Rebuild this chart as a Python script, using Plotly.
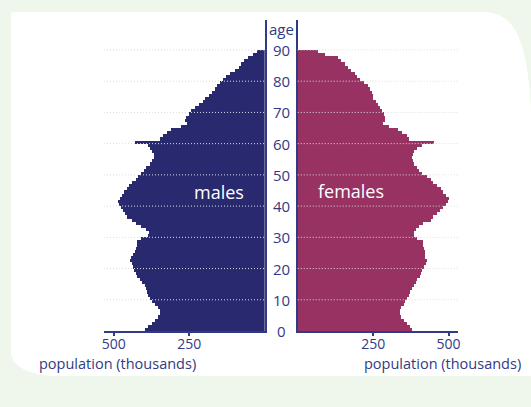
import plotly.graph_objects as go

ages = list(range(0, 90))
males = [397, 386, 375, 365, 355, 347, 348, 355, 365, 372,
         380, 386, 389, 392, 398, 408, 415, 424, 428, 432,
         436, 440, 446, 444, 435, 430, 425, 423, 422, 410,
         388, 383, 395, 410, 425, 441, 455, 463, 470, 478,
         484, 486, 480, 474, 466, 458, 450, 440, 428, 420,
         410, 400, 392, 380, 374, 368, 366, 372, 380, 386,
         430, 348, 338, 325, 310, 276, 258, 264, 262, 252,
         243, 230, 217, 206, 197, 186, 175, 166, 158, 148,
         138, 128, 114, 98, 85, 78, 69, 56, 40, 24]
females = [378, 370, 360, 350, 343, 339, 338, 342, 350, 356,
           362, 368, 372, 378, 385, 390, 396, 404, 408, 412,
           418, 425, 428, 422, 420, 420, 417, 416, 414, 396,
           384, 383, 392, 400, 416, 440, 448, 460, 472, 480,
           490, 498, 500, 490, 480, 474, 462, 448, 440, 428,
           410, 402, 394, 386, 382, 378, 380, 384, 394, 411,
           450, 367, 361, 344, 333, 303, 283, 289, 289, 286,
           280, 272, 264, 258, 250, 247, 244, 239, 233, 220,
           206, 197, 189, 176, 167, 156, 144, 131, 91, 67]
age_ticks = [0, 10, 20, 30, 40, 50, 60, 70, 80, 90]
pop_ticks = [250, 500]

NAVY = "#29296f"
MAROON = "#983262"
TEXT = "#323a85"
GREEN_BG = "#eff6eb"
FONT = "Open Sans"

W, H = 531, 407
ML, MR, MT, MB = 104, 73.4, 20, 75.5
PW = W - ML - MR
PH = H - MT - MB


def px(x):
    return (x - ML) / PW


def py(y):
    return (H - MB - y) / PH


fig = go.Figure()
fig.add_trace(go.Bar(x=males, y=ages, orientation="h", width=1, offset=0,
                     marker=dict(color=NAVY, line=dict(width=0)),
                     xaxis="x", yaxis="y", showlegend=False, hoverinfo="skip"))
fig.add_trace(go.Bar(x=females, y=ages, orientation="h", width=1, offset=0,
                     marker=dict(color=MAROON, line=dict(width=0)),
                     xaxis="x2", yaxis="y2", showlegend=False, hoverinfo="skip"))

xcommon = dict(showgrid=False, zeroline=False, showline=True, linecolor=TEXT,
               linewidth=1.5, ticks="outside", ticklen=3, tickwidth=1.5,
               tickcolor=TEXT, tickvals=pop_ticks,
               ticktext=[str(v) for v in pop_ticks], ticklabelstandoff=-4,
               tickfont=dict(family=FONT, size=14, color=TEXT), fixedrange=True)
ycommon = dict(range=[0, 99.6], showgrid=False, zeroline=False, showline=True,
               linecolor=TEXT, linewidth=1.5, showticklabels=False, ticks="",
               fixedrange=True)

fig.update_layout(
    width=W, height=H,
    margin=dict(l=ML, r=MR, t=MT, b=MB, pad=0),
    paper_bgcolor=GREEN_BG, plot_bgcolor="rgba(0,0,0,0)",
    bargap=0, barmode="overlay",
    xaxis=dict(domain=[0, px(264.5)], range=[532.7, 0], anchor="y", **xcommon),
    xaxis2=dict(domain=[px(297.5), 1], range=[0, 531.4], anchor="y2", **xcommon),
    yaxis=dict(anchor="x", side="right", **ycommon),
    yaxis2=dict(anchor="x2", side="left", matches="y", **ycommon),
    font=dict(family=FONT, color=TEXT),
)

# white card behind the chart
card = (f"M {px(11)},{py(15)} Q {px(11)},{py(12)} {px(14)},{py(12)} "
        f"L {px(485)},{py(12)} C {px(515)},{py(14)} {px(528)},{py(40)} {px(531)},{py(122)} "
        f"L {px(531)},{py(376.5)} L {px(51)},{py(376.5)} "
        f"C {px(25)},{py(374)} {px(13)},{py(366)} {px(11)},{py(354)} Z")
shapes = [dict(type="path", path=card, xref="paper", yref="paper",
               fillcolor="white", line=dict(width=0), layer="below")]

# dotted gridlines drawn over the bars
for a in age_ticks[1:]:
    for xr, yr in (("x domain", "y"), ("x2 domain", "y2")):
        shapes.append(dict(type="line", xref=xr, yref=yr, x0=0, x1=1, y0=a, y1=a,
                           line=dict(color="#dcdcdc", width=1, dash="1px,2px"),
                           layer="above"))
fig.update_layout(shapes=shapes)

ann = []
for a in age_ticks:
    ann.append(dict(text=str(a), xref="paper", yref="y", x=px(281), y=a,
                    xanchor="center", yanchor="middle", showarrow=False,
                    font=dict(family=FONT, size=15, color=TEXT)))
ann.append(dict(text="age", xref="paper", yref="paper", x=px(281), y=py(29),
                xanchor="center", yanchor="middle", showarrow=False,
                font=dict(family=FONT, size=15, color=TEXT)))
ann.append(dict(text="males", xref="paper", yref="paper", x=px(219), y=py(192),
                xanchor="center", yanchor="middle", showarrow=False,
                font=dict(family=FONT, size=18, color="white")))
ann.append(dict(text="females", xref="paper", yref="paper", x=px(350.5), y=py(191),
                xanchor="center", yanchor="middle", showarrow=False,
                font=dict(family=FONT, size=18, color="white")))
ann.append(dict(text="population (thousands)", xref="paper", yref="paper",
                x=px(117.5), y=py(364), xanchor="center", yanchor="middle",
                showarrow=False, font=dict(family=FONT, size=14.5, color=TEXT)))
ann.append(dict(text="population (thousands)", xref="paper", yref="paper",
                x=px(442), y=py(364), xanchor="center", yanchor="middle",
                showarrow=False, font=dict(family=FONT, size=14.5, color=TEXT)))
fig.update_layout(annotations=ann)

fig.write_html("out.html", config={"displayModeBar": False},
               post_script="document.body.style.margin='0';document.body.style.overflow='hidden';")
